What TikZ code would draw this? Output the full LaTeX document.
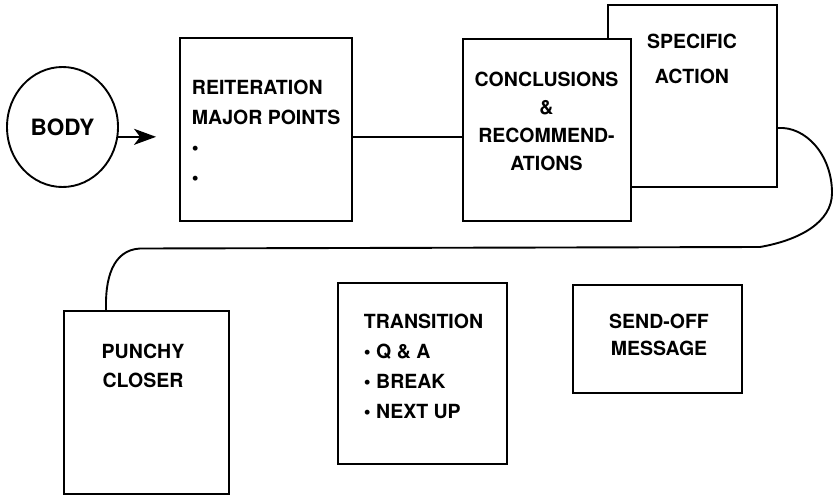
\documentclass[tikz,border=0pt]{standalone}
\usepackage{fontspec}
\setmainfont{TeX Gyre Heros}
\usetikzlibrary{shapes.geometric,arrows.meta,calc}
\newcommand{\capsfont}[1]{\bfseries\fontsize{19.5}{#1}\selectfont}
\newcommand{\bodyfont}{\bfseries\fontsize{22.5}{26}\selectfont}
\begin{document}
\begin{tikzpicture}[x=1pt,y=-1pt,
  line width=1.9pt,
  box/.style={draw, fill=white, rectangle, inner sep=0pt},
  txt/.style={inner sep=0pt},
  flow/.style={-{Stealth[length=22pt,width=16pt,inset=6pt]}},
]
\useasboundingbox (0,0) rectangle (835,496);

% start of the flow
\node[draw, ellipse, inner sep=0pt, minimum width=111pt, minimum height=120pt,
      font=\bodyfont] (body) at (62.5,127) {BODY};

% boxes (the specific-action box sits behind the conclusions box)
\node[box, minimum width=172pt, minimum height=183pt] (reit)   at (266,129.5) {};
\node[box, minimum width=169pt, minimum height=182pt] (spec)   at (692.3,96) {};
\node[box, minimum width=168pt, minimum height=182pt] (conc)   at (547,130) {};
\node[box, minimum width=165pt, minimum height=183pt] (punchy) at (146.5,402.5) {};
\node[box, minimum width=169pt, minimum height=181pt] (trans)  at (422.5,373.5) {};
\node[box, minimum width=169pt, minimum height=108pt] (send)   at (657.5,339) {};

% box texts
\node[txt, anchor=north west, align=left, font=\capsfont{30}] (reittext) at (191,79.5)
  {REITERATION\\MAJOR POINTS\\\textbullet\\\textbullet};
\node[txt, anchor=north, align=center, font=\capsfont{28}] (conctext) at (546.5,71)
  {CONCLUSIONS\\\&\\RECOMMEND-\\ATIONS};
\node[txt, anchor=north, align=center, font=\capsfont{35}] (spectext) at (692,33)
  {SPECIFIC\\ACTION};
\node[txt, anchor=north, align=center, font=\capsfont{29}] (punchytext) at (143,343)
  {PUNCHY\\CLOSER};
\node[txt, anchor=north west, align=left, font=\capsfont{30}] (transtext) at (363,313)
  {TRANSITION\\\textbullet{} Q \& A\\\textbullet{} BREAK\\\textbullet{} NEXT UP};
\node[txt, anchor=north, align=center, font=\capsfont{27}] (sendtext) at (659,313)
  {SEND-OFF\\MESSAGE};

% connectors
\draw[flow, shorten >=23pt] (body.-10) -- (body.-10 -| reit.west);
\draw (reit.east |- body.-10) -- (conc.west |- body.-10);
\draw ($(spec.east)+(0,32)$) .. controls +(28,-2) and (832,155) .. (832,193)
      .. controls (832,222) and (800,240) .. (760,247)
      -- (140,248.5)
      .. controls (112,250) and (105,280) .. ($(punchy.north west)+(43,0)$);
\end{tikzpicture}
\end{document}
